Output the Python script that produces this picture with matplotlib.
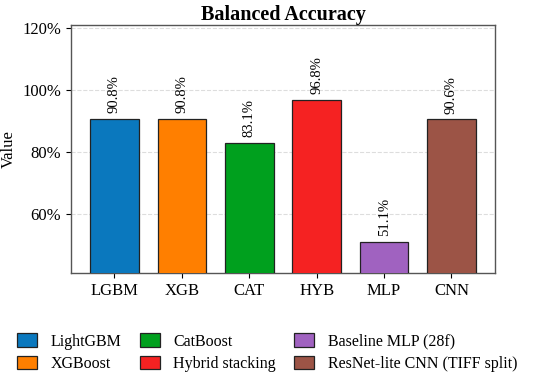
import matplotlib.pyplot as plt
import numpy as np

plt.rcParams['font.family'] = ['Liberation Serif', 'DejaVu Serif']

# data
short_names = ["LGBM", "XGB", "CAT", "HYB", "MLP", "CNN"]
long_names = ["LightGBM", "XGBoost", "CatBoost", "Hybrid stacking",
              "Baseline MLP (28f)", "ResNet-lite CNN (TIFF split)"]
balanced_acc = [0.908, 0.908, 0.831, 0.968, 0.511, 0.906]
colors = ["#0a78be", "#ff7f00", "#00a01e", "#f52222", "#a062c0", "#9c5446"]

fig = plt.figure(figsize=(5.5, 3.77), dpi=100)
ax = fig.add_axes([0.129, 0.276, 0.771, 0.658])

x = np.arange(len(short_names))
bars = ax.bar(x, balanced_acc, width=0.72, color=colors, edgecolor="#222222",
              linewidth=0.9, zorder=3)

# value labels above bars
for b, v in zip(bars, balanced_acc):
    ax.annotate(f"{v*100:.1f}%", (b.get_x() + b.get_width() / 2, v),
                xytext=(0, 4), textcoords="offset points",
                ha="center", va="bottom", rotation=90, fontsize=10.5)

ax.set_xticks(x)
ax.set_xticklabels(short_names, fontsize=12)
ax.set_ylim(0.411, 1.21)
ax.set_yticks([0.6, 0.8, 1.0, 1.2])
ax.set_yticklabels(["60%", "80%", "100%", "120%"], fontsize=12)
ax.set_ylabel("Value", fontsize=12)
ax.yaxis.set_label_coords(-0.128, 0.5)
ax.set_title("Balanced Accuracy", fontsize=14.5, fontweight="bold", pad=2)

ax.grid(axis="y", linestyle="--", color="#dddddd", linewidth=0.8, zorder=0)
for s in ax.spines.values():
    s.set_color("#555555")
    s.set_linewidth(1.0)

fig.legend(bars, long_names, loc="lower left", bbox_to_anchor=(0.005, -0.025),
           ncol=3, frameon=False, fontsize=11.5, handlelength=1.25,
           handleheight=0.9, columnspacing=1.15, labelspacing=0.4,
           handletextpad=0.85)

plt.savefig("out.png", dpi=100)
